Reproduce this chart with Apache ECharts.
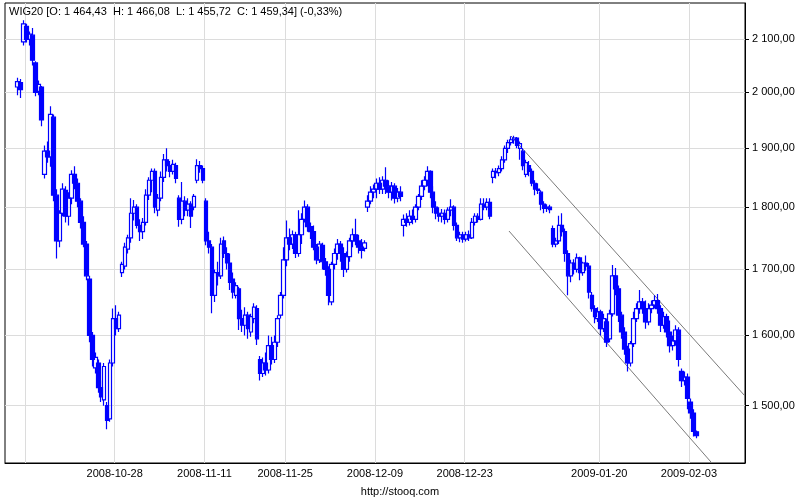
<!DOCTYPE html>
<html><head><meta charset="utf-8">
<script src="https://cdn.jsdelivr.net/npm/echarts@6/dist/echarts.min.js"></script>
<style>html,body{margin:0;padding:0;background:#fff}#c{width:800px;height:500px}</style>
</head><body><div id="c"></div>
<script>
// ---- data ----
const tradingDays = [
 '2008-10-13','2008-10-14','2008-10-15','2008-10-16','2008-10-17',
 '2008-10-20','2008-10-21','2008-10-22','2008-10-23','2008-10-24',
 '2008-10-27','2008-10-28','2008-10-29','2008-10-30','2008-10-31',
 '2008-11-03','2008-11-04','2008-11-05','2008-11-06','2008-11-07',
 '2008-11-10','2008-11-12','2008-11-13','2008-11-14',
 '2008-11-17','2008-11-18','2008-11-19','2008-11-20','2008-11-21',
 '2008-11-24','2008-11-25','2008-11-26','2008-11-27','2008-11-28',
 '2008-12-01','2008-12-02','2008-12-03','2008-12-04','2008-12-05',
 '2008-12-08','2008-12-09','2008-12-10','2008-12-11','2008-12-12',
 '2008-12-15','2008-12-16','2008-12-17','2008-12-18','2008-12-19',
 '2008-12-22','2008-12-23','2008-12-29','2008-12-30',
 '2009-01-02','2009-01-05','2009-01-06','2009-01-07','2009-01-08','2009-01-09',
 '2009-01-12','2009-01-13','2009-01-14','2009-01-15','2009-01-16',
 '2009-01-19','2009-01-20','2009-01-21','2009-01-22','2009-01-23',
 '2009-01-26','2009-01-27','2009-01-28','2009-01-29','2009-01-30',
 '2009-02-02','2009-02-03'
];
const barsPerDay = 3;
// [open, close, low, high]
const wig20Bars = [
 [2010,2020,1995,2027],[2018,2005,1990,2025],[2095,2130,2088,2137],
 [2125,2100,2094,2130],[2100,2110,2088,2115],[2108,2060,2050,2122],
 [2055,2000,1993,2058],[2002,2015,1995,2022],[2010,1950,1939,2012],
 [1855,1895,1848,1905],[1895,1885,1875,1912],[1885,1960,1868,1975],
 [1955,1820,1810,1960],[1820,1745,1717,1830],[1745,1790,1735,1795],
 [1790,1830,1785,1840],[1828,1785,1775,1835],[1785,1815,1770,1825],
 [1815,1855,1805,1862],[1855,1840,1830,1869],[1840,1810,1800,1848],
 [1810,1775,1765,1815],[1775,1740,1735,1785],[1740,1690,1683,1745],
 [1685,1600,1590,1690],[1600,1565,1555,1605],[1553,1568,1545,1575],
 [1560,1525,1518,1565],[1525,1512,1505,1535],[1508,1555,1500,1560],
 [1500,1480,1468,1505],[1482,1560,1478,1565],[1560,1625,1555,1640],
 [1625,1610,1600,1645],[1610,1630,1605,1635],[1695,1708,1688,1712],
 [1705,1735,1700,1742],[1732,1750,1725,1755],[1750,1790,1742,1815],
 [1790,1800,1778,1812],[1800,1770,1765,1805],[1770,1760,1745,1780],
 [1760,1775,1748,1782],[1775,1820,1770,1830],[1820,1845,1812,1850],
 [1845,1860,1825,1865],[1860,1800,1790,1865],[1795,1815,1785,1822],
 [1815,1850,1810,1860],[1850,1880,1842,1890],[1880,1870,1860,1900],
 [1870,1860,1850,1878],[1860,1872,1855,1880],[1870,1848,1840,1875],
 [1815,1780,1768,1820],[1780,1810,1772,1842],[1810,1795,1785,1818],
 [1795,1805,1785,1815],[1805,1785,1766,1810],[1800,1818,1795,1822],
 [1845,1870,1840,1881],[1870,1865,1858,1878],[1865,1845,1840,1870],
 [1810,1745,1738,1815],[1745,1735,1725,1760],[1735,1660,1633,1740],
 [1660,1695,1650,1700],[1695,1690,1675,1712],[1690,1740,1685,1750],
 [1745,1725,1718,1752],[1725,1710,1700,1735],[1710,1680,1668,1725],
 [1685,1665,1655,1695],[1660,1675,1655,1680],[1670,1625,1608,1673],
 [1625,1615,1605,1638],[1615,1630,1600,1642],[1630,1610,1595,1635],
 [1605,1628,1598,1632],[1625,1642,1618,1648],[1640,1595,1586,1645],
 [1565,1545,1535,1570],[1545,1560,1540,1568],[1560,1550,1542,1575],
 [1550,1585,1545,1600],[1585,1565,1558,1598],[1565,1590,1560,1600],
 [1590,1625,1583,1630],[1630,1660,1625,1665],[1660,1715,1655,1735],
 [1715,1750,1705,1778],[1750,1740,1730,1765],[1740,1755,1732,1762],
 [1755,1725,1718,1760],[1725,1755,1720,1795],[1755,1780,1740,1790],
 [1780,1800,1775,1811],[1800,1768,1760,1805],[1768,1760,1748,1775],
 [1760,1735,1730,1770],[1735,1715,1708,1740],[1715,1740,1710,1745],
 [1738,1712,1700,1742],[1712,1700,1690,1718],[1700,1660,1645,1705],
 [1650,1708,1645,1712],[1708,1725,1700,1733],[1725,1740,1715,1748],
 [1740,1725,1712,1745],[1725,1700,1688,1735],[1700,1720,1695,1728],
 [1720,1745,1712,1750],[1745,1755,1735,1765],[1755,1745,1738,1781],
 [1745,1735,1725,1755],[1735,1730,1717,1748],[1733,1742,1728,1746],
 [1800,1810,1792,1820],[1810,1825,1805,1835],[1825,1830,1815,1838],
 [1830,1840,1815,1848],[1840,1830,1822,1850],[1830,1845,1822,1852],
 [1845,1835,1822,1867],[1835,1825,1815,1845],[1825,1835,1811,1842],
 [1835,1815,1806,1840],[1815,1825,1808,1832],[1825,1818,1810,1835],
 [1770,1780,1752,1788],[1780,1775,1768,1790],[1775,1785,1770,1795],
 [1785,1780,1772,1796],[1780,1800,1775,1805],[1800,1818,1795,1822],
 [1818,1835,1812,1845],[1835,1845,1828,1852],[1845,1860,1835,1869],
 [1860,1825,1815,1862],[1825,1800,1790,1835],[1800,1790,1780,1810],
 [1790,1785,1776,1800],[1785,1790,1775,1797],[1790,1780,1772,1796],
 [1780,1795,1775,1800],[1795,1800,1785,1813],[1800,1770,1762,1803],
 [1770,1750,1745,1775],[1750,1755,1743,1760],[1755,1748,1742,1760],
 [1748,1755,1744,1760],[1755,1750,1745,1762],[1750,1775,1748,1782],
 [1775,1785,1770,1790],[1785,1780,1775,1790],[1780,1805,1778,1815],
 [1805,1800,1795,1815],[1800,1808,1795,1815],[1808,1785,1780,1815],
 [1850,1860,1840,1865],[1860,1858,1848,1866],[1858,1865,1852,1870],
 [1865,1880,1860,1886],[1880,1900,1875,1905],[1900,1910,1892,1915],
 [1910,1915,1905,1921],[1915,1918,1908,1922],[1918,1905,1900,1920],
 [1900,1908,1880,1912],[1895,1870,1862,1900],[1855,1875,1850,1880],
 [1870,1860,1852,1878],[1860,1840,1835,1865],[1840,1830,1820,1845],
 [1830,1828,1822,1840],[1825,1805,1795,1828],[1805,1798,1790,1810],
 [1798,1800,1792,1805],[1800,1796,1790,1804],[1765,1740,1735,1770],
 [1740,1745,1735,1750],[1745,1770,1740,1786],[1770,1760,1752,1790],
 [1760,1725,1712,1765],[1725,1690,1660,1730],[1690,1710,1680,1715],
 [1710,1700,1692,1716],[1700,1718,1695,1725],[1718,1695,1683,1720],
 [1695,1710,1690,1712],[1710,1705,1698,1722],[1705,1665,1655,1710],
 [1660,1640,1635,1665],[1640,1628,1618,1645],[1625,1635,1620,1642],
 [1635,1610,1600,1638],[1610,1625,1605,1632],[1620,1590,1583,1625],
 [1595,1632,1590,1638],[1632,1690,1628,1707],[1690,1670,1660,1702],
 [1670,1630,1620,1675],[1630,1605,1595,1635],[1605,1580,1572,1612],
 [1580,1560,1548,1585],[1560,1588,1555,1592],[1588,1625,1583,1635],
 [1625,1640,1620,1648],[1640,1650,1632,1668],[1650,1640,1632,1656],
 [1640,1620,1610,1652],[1620,1640,1615,1648],[1640,1645,1633,1652],
 [1645,1652,1640,1660],[1652,1640,1632,1662],[1640,1615,1605,1645],
 [1615,1628,1610,1635],[1628,1605,1597,1632],[1605,1585,1575,1622],
 [1585,1592,1578,1600],[1592,1608,1585,1615],[1608,1565,1555,1612],
 [1548,1535,1526,1552],[1535,1540,1528,1548],[1540,1510,1495,1545],
 [1505,1490,1482,1510],[1490,1465,1458,1495],[1464.43,1459.34,1455.72,1466.08]
];
const gridDates = ['2008-10-14','2008-10-28','2008-11-11','2008-11-25','2008-12-09','2008-12-23','2009-01-20','2009-02-03'];
const labelDates = ['2008-10-28','2008-11-11','2008-11-25','2008-12-09','2008-12-23','2009-01-20','2009-02-03'];
const priceTicks = [1500,1600,1700,1800,1900,2000,2100];
// trend channel: [position in trading days, price]
const trendUpper = [[55.17,1921.6],[81.24,1513.4]];
const trendLower = [[54.94,1761.0],[77.45,1424.4]];
const titleText = 'WIG20 [O: 1 464,43  H: 1 466,08  L: 1 455,72  C: 1 459,34] (-0,33%)';
const sourceText = 'http://stooq.com';
const priceMin = 1423.1, priceMax = 2171.2;
const posMin = -1.226, posMax = 81.244;

// ---- helpers ----
function dayPos(date){ const i = tradingDays.findIndex(d => d >= date); return i < 0 ? tradingDays.length : i; }
function fmtPrice(n){
  const s = n.toFixed(2).split('.');
  const intp = s[0].replace(/\B(?=(\d{3})+(?!\d))/g, ' ');
  return intp + ',' + s[1];
}
const labelMap = {};
labelDates.forEach(d => { labelMap[dayPos(d)] = d; });

const candleData = wig20Bars.map((b, i) => [
  Math.floor(i / barsPerDay) + ((i % barsPerDay) + 0.5) / barsPerDay,
  Math.log(b[0]), Math.log(b[1]), Math.log(b[2]), Math.log(b[3])
]);
const FONT = '"Liberation Sans", Arial, sans-serif';

const chart = echarts.init(document.getElementById('c'), null, {renderer: 'canvas'});
chart.setOption({
  animation: false,
  backgroundColor: '#ffffff',
  grid: {left: 5, right: 55, top: 3, bottom: 37, show: true, borderColor: '#000', borderWidth: 1, containLabel: false},
  xAxis: {
    type: 'value', min: posMin, max: posMax,
    axisLine: {show: true, onZero: false, lineStyle: {color: '#000', width: 1}},
    axisTick: {show: false, customValues: gridDates.map(dayPos)},
    axisLabel: {
      customValues: labelDates.map(dayPos), color: '#000', fontSize: 11, fontFamily: FONT, margin: 5,
      formatter: v => labelMap[Math.round(v)] || ''
    },
    splitLine: {show: true, lineStyle: {color: '#dcdcdc', width: 1}}
  },
  yAxis: {
    type: 'value', position: 'right', min: Math.log(priceMin), max: Math.log(priceMax),
    axisLine: {show: true, onZero: false, lineStyle: {color: '#000', width: 1}},
    axisTick: {show: true, length: 4, lineStyle: {color: '#000'}, customValues: priceTicks.map(Math.log)},
    axisLabel: {
      customValues: priceTicks.map(Math.log), color: '#000', fontSize: 11, fontFamily: FONT, margin: 7,
      formatter: v => fmtPrice(Math.round(Math.exp(v)))
    },
    splitLine: {show: true, lineStyle: {color: '#dcdcdc', width: 1}}
  },
  graphic: [
    {type: 'text', left: 9, top: 6, z: 10, style: {text: titleText, font: '11px ' + FONT, fill: '#000'}},
    {type: 'text', left: 'center', top: 486, style: {text: sourceText, font: '11px ' + FONT, fill: '#000'}}
  ],
  series: [
    {
      type: 'candlestick',
      dimensions: ['pos', 'open', 'close', 'lowest', 'highest'],
      encode: {x: 'pos', y: ['open', 'close', 'lowest', 'highest']},
      data: candleData,
      barWidth: 4,
      itemStyle: {color: 'rgba(255,255,255,0)', color0: '#0000ff', borderColor: '#0000ff', borderColor0: '#0000ff', borderWidth: 1.2},
      z: 3
    },
    {
      type: 'line', data: trendUpper.map(p => [p[0], Math.log(p[1])]), showSymbol: false, silent: true,
      lineStyle: {color: '#7a7a7a', width: 1}, z: 2
    },
    {
      type: 'line', data: trendLower.map(p => [p[0], Math.log(p[1])]), showSymbol: false, silent: true,
      lineStyle: {color: '#7a7a7a', width: 1}, z: 2
    }
  ]
});
</script></body></html>
